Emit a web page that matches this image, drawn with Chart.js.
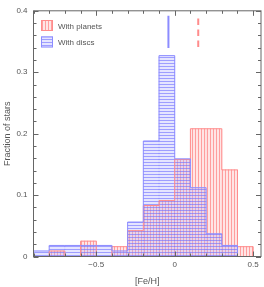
<!DOCTYPE html>
<html>
<head>
<meta charset="utf-8">
<script src="https://cdn.jsdelivr.net/npm/chart.js@4.4.1/dist/chart.umd.min.js"></script>
<style>
  body { margin: 0; background: #fff; }
</style>
</head>
<body>
<canvas id="fehChart" width="264" height="287"></canvas>
<script>
// [Fe/H] histogram, bins of 0.1 dex (left edges)
const binStarts = [-0.9, -0.8, -0.7, -0.6, -0.5, -0.4, -0.3, -0.2, -0.1, 0.0, 0.1, 0.2, 0.3, 0.4];
const binWidth = 0.1;
const planetFractions = [0, 0.009, 0, 0.025, 0, 0.016, 0.042, 0.083, 0.091, 0.158, 0.208, 0.208, 0.141, 0.016];
const discFractions = [0.009, 0.018, 0.018, 0.018, 0.018, 0.009, 0.056, 0.188, 0.327, 0.159, 0.112, 0.037, 0.018, 0];
const meanDiscs = -0.04;
const meanPlanets = 0.15;
const discMarkerY = [0.392, 0.3395];
const planetMarkerY = [0.3875, 0.3395];
const xTicks = [-0.5, 0, 0.5];
const yTicks = [0, 0.1, 0.2, 0.3, 0.4];
const seriesLabels = ['With planets', 'With discs'];

const RED = '#ff8c8c';
const BLUE = '#8c8cff';
const TEXT = '#555';
const FONT = '"Liberation Sans", Arial, sans-serif';

function hatch(vertical, line, bg) {
  const c = document.createElement('canvas');
  c.width = 3; c.height = 3;
  const g = c.getContext('2d');
  g.fillStyle = bg;
  g.fillRect(0, 0, 3, 3);
  g.fillStyle = line;
  if (vertical) g.fillRect(0, 0, 1, 3); else g.fillRect(0, 0, 3, 1);
  return g.createPattern(c, 'repeat');
}
const redHatch = hatch(true, 'rgba(255,110,110,0.6)', 'rgba(255,180,180,0.35)');
const blueHatch = hatch(false, 'rgba(110,110,255,0.6)', 'rgba(180,180,255,0.35)');

const bars = vals => vals.map((v, i) => ({ x: binStarts[i] + binWidth / 2, y: v }));
function outline(vals) {
  const pts = [{ x: binStarts[0], y: 0 }];
  vals.forEach((v, i) => pts.push({ x: binStarts[i], y: v }));
  pts.push({ x: binStarts[binStarts.length - 1] + binWidth, y: 0 });
  return pts;
}

function fmt(v) {
  if (v === 0) return '0';
  return (v < 0 ? '\u2212' : '') + Math.abs(v).toFixed(1);
}

// frame with inward major/minor ticks on all four sides, plus the legend
const framePlugin = {
  id: 'frame',
  afterDraw(chart) {
    const { ctx, chartArea: a, scales: { x, y } } = chart;
    ctx.save();
    ctx.strokeStyle = '#666';
    ctx.lineWidth = 1;
    ctx.strokeRect(a.left, a.top, a.right - a.left, a.bottom - a.top);
    ctx.beginPath();
    for (let i = -9; i <= 5; i++) {
      const v = i / 10;
      const px = Math.round(x.getPixelForValue(v)) + 0.5;
      const len = i % 5 === 0 ? 5 : 3;
      ctx.moveTo(px, a.bottom); ctx.lineTo(px, a.bottom - len);
      ctx.moveTo(px, a.top); ctx.lineTo(px, a.top + len);
    }
    for (let i = 0; i <= 20; i++) {
      const v = i / 50;
      const py = Math.round(y.getPixelForValue(v)) + 0.5;
      const len = i % 5 === 0 ? 5 : 3;
      ctx.moveTo(a.left, py); ctx.lineTo(a.left + len, py);
      ctx.moveTo(a.right, py); ctx.lineTo(a.right - len, py);
    }
    ctx.stroke();

    // legend
    const items = [
      { fill: redHatch, stroke: RED, label: seriesLabels[0], top: 20 },
      { fill: blueHatch, stroke: BLUE, label: seriesLabels[1], top: 36.5 }
    ];
    ctx.font = '8px ' + FONT;
    ctx.textBaseline = 'middle';
    items.forEach(it => {
      ctx.fillStyle = it.fill;
      ctx.fillRect(41, it.top, 12, 11);
      ctx.strokeStyle = it.stroke;
      ctx.strokeRect(41.5, it.top + 0.5, 11, 10);
      ctx.fillStyle = TEXT;
      ctx.fillText(it.label, 58, it.top + 6.5);
    });
    ctx.restore();
  }
};

new Chart(document.getElementById('fehChart'), {
  type: 'bar',
  data: {
    datasets: [
      { label: seriesLabels[0], data: bars(planetFractions), backgroundColor: redHatch, borderWidth: 0, grouped: false, barPercentage: 1, categoryPercentage: 1, order: 4 },
      { label: seriesLabels[1], data: bars(discFractions), backgroundColor: blueHatch, borderWidth: 0, grouped: false, barPercentage: 1, categoryPercentage: 1, order: 3 },
      { type: 'line', data: outline(planetFractions), stepped: 'before', borderColor: RED, borderWidth: 1, pointRadius: 0, fill: false, order: 2 },
      { type: 'line', data: outline(discFractions), stepped: 'before', borderColor: BLUE, borderWidth: 1, pointRadius: 0, fill: false, order: 1 },
      { type: 'line', data: discMarkerY.map(v => ({ x: meanDiscs, y: v })), borderColor: BLUE, borderWidth: 2, pointRadius: 0, order: 0 },
      { type: 'line', data: planetMarkerY.map(v => ({ x: meanPlanets, y: v })), borderColor: RED, borderWidth: 2, borderDash: [6.5, 4.5], pointRadius: 0, order: 0 }
    ]
  },
  options: {
    responsive: false,
    animation: false,
    layout: { padding: { top: 4, right: 3, left: 0, bottom: 0 } },
    plugins: { legend: { display: false }, tooltip: { enabled: false } },
    scales: {
      x: {
        type: 'linear', min: -0.9, max: 0.55, offset: false,
        grid: { display: false, drawTicks: false }, border: { display: false },
        afterBuildTicks: s => { s.ticks = xTicks.map(v => ({ value: v })); },
        afterFit: s => { s.height = 30.5; },
        ticks: { color: TEXT, font: { family: FONT, size: 8 }, padding: 3, maxRotation: 0, callback: fmt },
        title: { display: true, text: '[Fe/H]', color: TEXT, font: { family: FONT, size: 9 }, padding: { top: 0, bottom: 0 } }
      },
      y: {
        min: 0, max: 0.4,
        grid: { display: false, drawTicks: false }, border: { display: false },
        afterBuildTicks: s => { s.ticks = yTicks.map(v => ({ value: v })); },
        afterFit: s => { s.width = 33.5; },
        ticks: { color: TEXT, font: { family: FONT, size: 8 }, padding: 6, callback: fmt },
        title: { display: true, text: 'Fraction of stars', color: TEXT, font: { family: FONT, size: 9 }, padding: { top: 2, bottom: 0 } }
      }
    }
  },
  plugins: [framePlugin]
});
</script>
</body>
</html>
